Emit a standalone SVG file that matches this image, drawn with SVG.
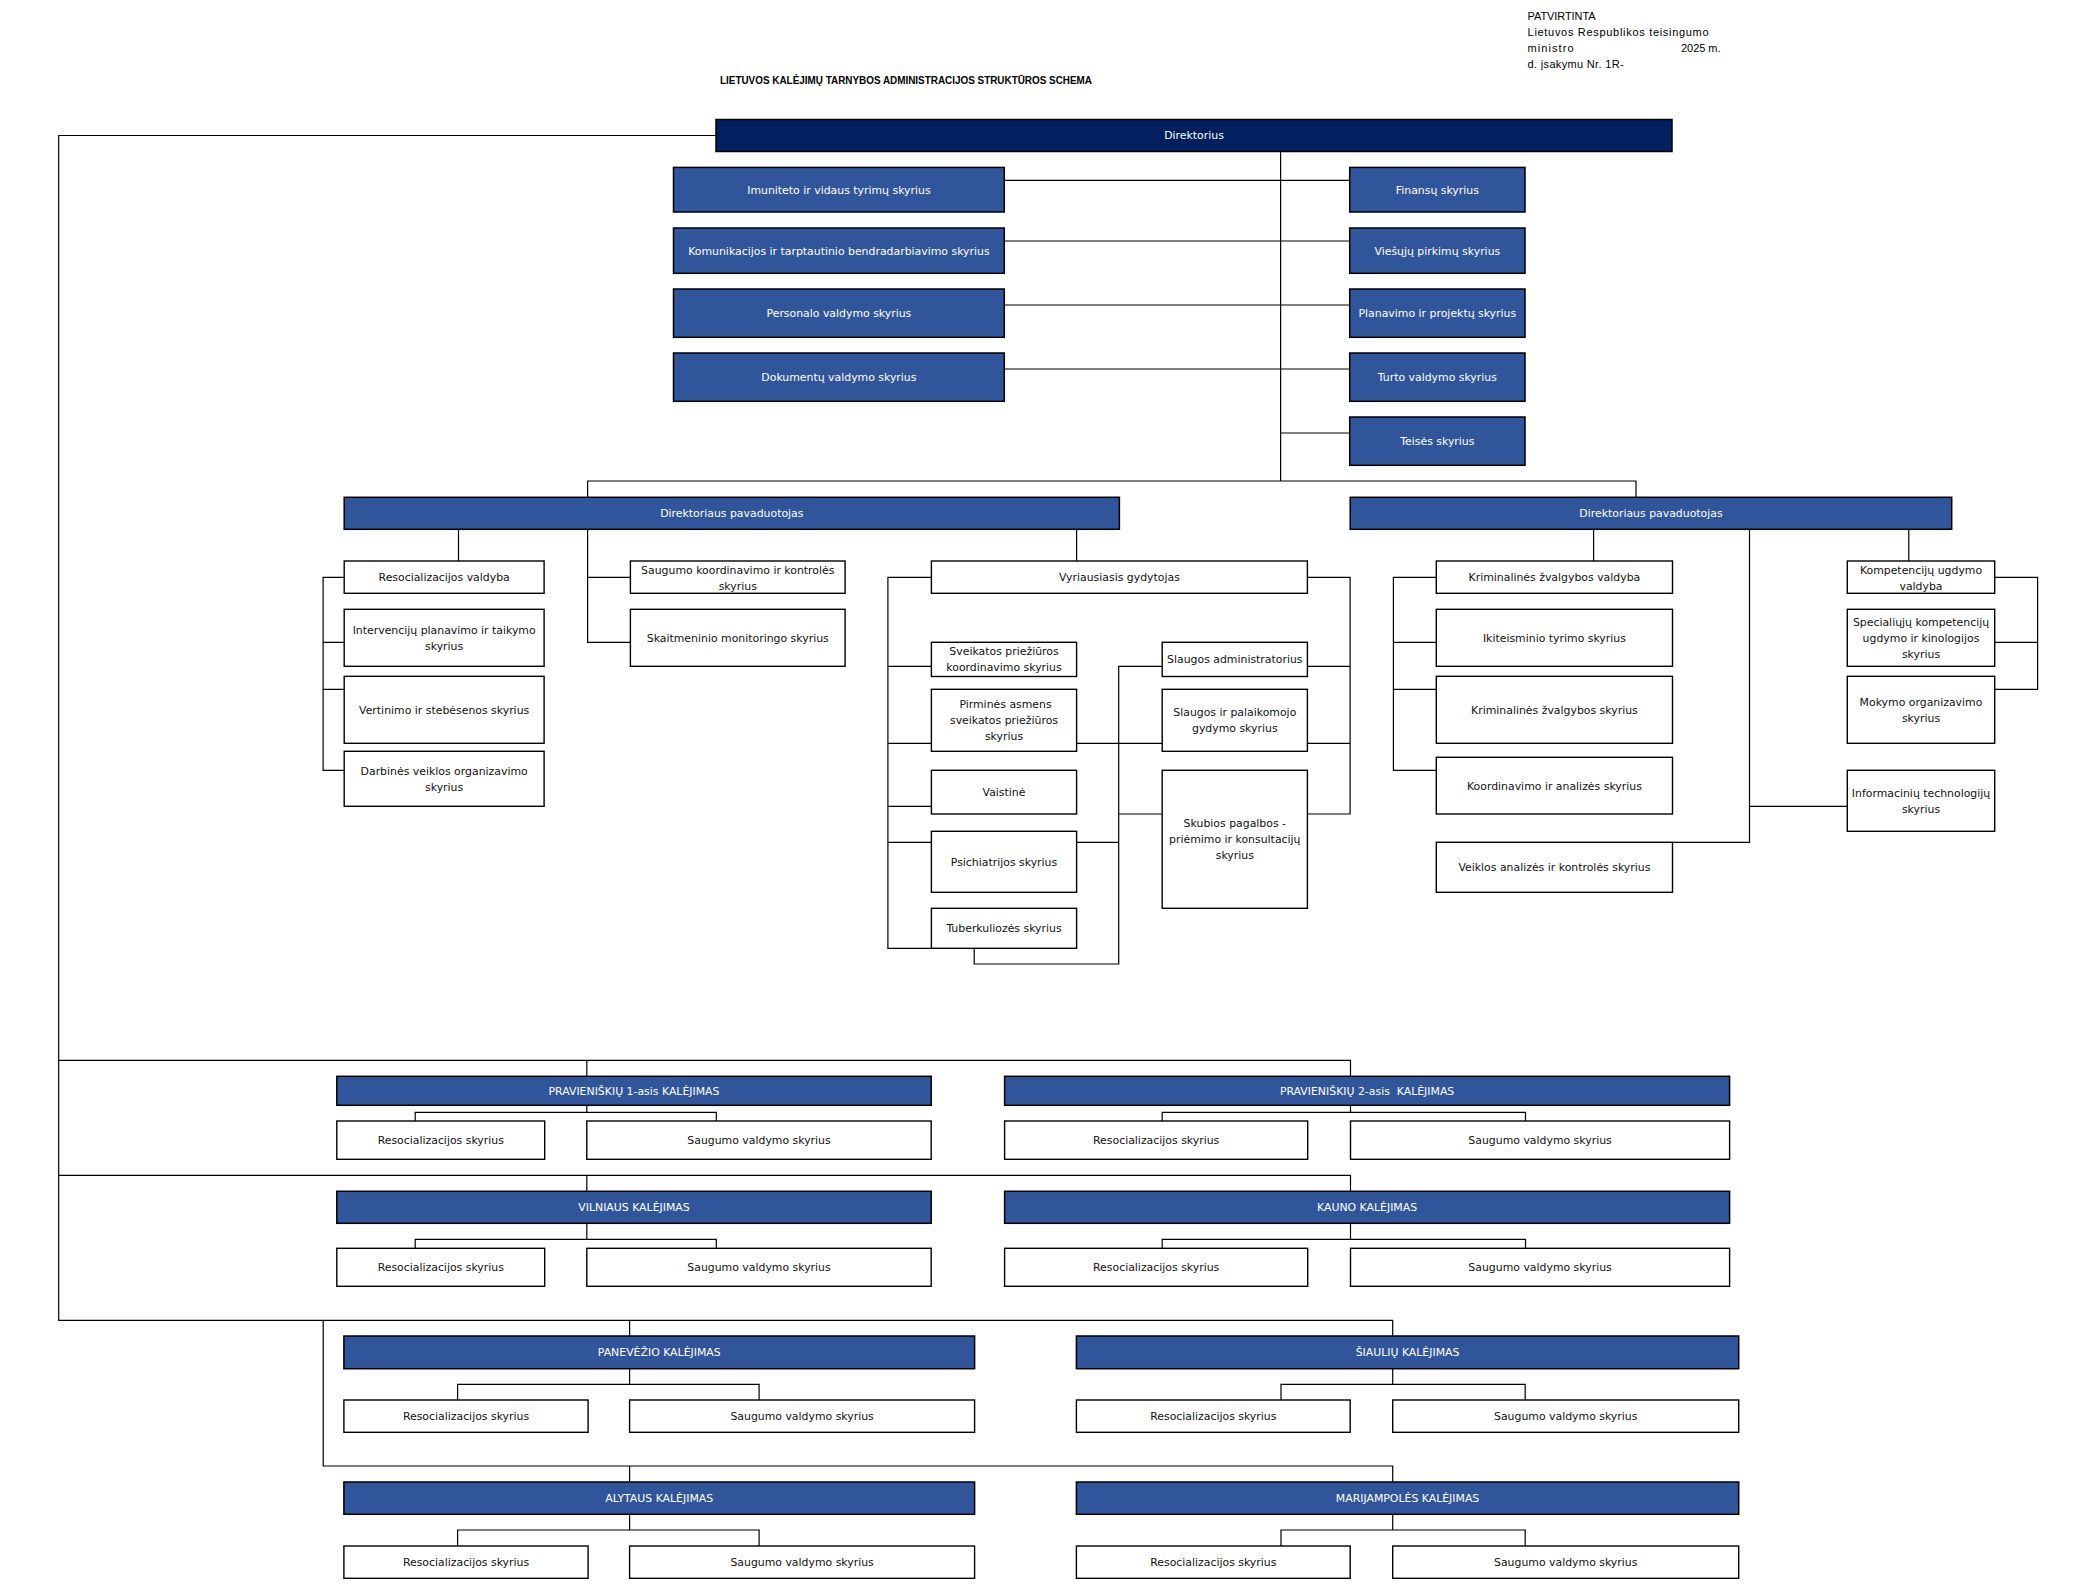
<svg xmlns="http://www.w3.org/2000/svg" width="2083" height="1591" viewBox="0 0 2083 1591">
<style>
.bg{fill:#ffffff}
.nv{fill:#002060;stroke:#000;stroke-width:1.5}
.bl{fill:#31559A;stroke:#000;stroke-width:1.5}
.wh{fill:#ffffff;stroke:#000;stroke-width:1.4}
.cn{fill:none;stroke:#000;stroke-width:1.2}
text{font-family:"DejaVu Sans","Liberation Sans",sans-serif;font-size:10.9px;text-anchor:middle}
.tw{fill:#ffffff}
.tk{fill:#111111}
.hd{font-family:"Liberation Sans",Arial,sans-serif;font-size:11px;text-anchor:start;fill:#000}
.tt{font-family:"Liberation Sans",Arial,sans-serif;font-size:10px;font-weight:bold;text-anchor:start;fill:#000}
</style>
<rect class="bg" x="0" y="0" width="2083" height="1591"/>
<g id="header">
<text class="hd" x="1527.6" y="20" textLength="68">PATVIRTINTA</text>
<text class="hd" x="1527.6" y="36" textLength="181">Lietuvos Respublikos teisingumo</text>
<text class="hd" x="1527.6" y="52" textLength="46">ministro</text>
<text class="hd" x="1681" y="52" textLength="39.5">2025 m.</text>
<text class="hd" x="1527.6" y="68" textLength="96">d. įsakymu Nr. 1R-</text>
<text class="tt" x="720" y="84" textLength="372" lengthAdjust="spacingAndGlyphs">LIETUVOS KALĖJIMŲ TARNYBOS ADMINISTRACIJOS STRUKTŪROS SCHEMA</text>
</g>
<g id="connectors" class="cn">
<path d="M716 135.5 H58.7 V1320.3 H1392.7 V1336"/>
<path d="M58.7 1060.3 H1350.5 V1076.3 M586.8 1060.3 V1076.3"/>
<path d="M58.7 1175.3 H1350.5 V1191.3 M586.8 1175.3 V1191.3"/>
<path d="M629.6 1320.3 V1336 M323.2 1320.3 V1466 H1392.7 V1482 M629.6 1466 V1482"/>
<path d="M1280.6 151.5 V481 M587.6 497.3 V481 H1636 V497.3"/>
<path d="M1004.3 180.3 H1349.7 M1004.3 241 H1349.7 M1004.3 305 H1349.7 M1004.3 369 H1349.7 M1280.6 433 H1349.7"/>
<path d="M458.5 529.3 V561 M587.6 529.3 V642.3 H630.4 M587.6 577.3 H630.4 M1076.6 529.3 V561"/>
<path d="M344.2 577.3 H323.1 V770.3 H344.2 M323.1 642.3 H344.2 M323.1 689.3 H344.2"/>
<path d="M931.4 577.3 H887.9 V948.3 H931.4 M887.9 666.3 H931.4 M887.9 743.3 H931.4 M887.9 806.3 H931.4 M887.9 842.3 H931.4"/>
<path d="M974.2 948.3 V964 H1118.7 V666.3 H1162.2 M1076.6 743.3 H1162.2 M1118.7 814 H1162.2 M1076.6 842.3 H1118.7"/>
<path d="M1307.4 577.3 H1350.1 V814 H1307.4 M1307.4 666.3 H1350.1 M1307.4 743.3 H1350.1"/>
<path d="M1593.6 529.3 V561 M1749.5 529.3 V842.3 H1672.5 M1749.5 806.3 H1847.3 M1908.8 529.3 V561"/>
<path d="M1436.3 577.3 H1393.4 V770.3 H1436.3 M1393.4 642.3 H1436.3 M1393.4 689.3 H1436.3"/>
<path d="M1994.7 577.3 H2037.6 V689.3 H1994.7 M1994.7 642.3 H2037.6"/>
<path d="M586.8 1105.3 V1112.3 M415.2 1121 V1112.3 H716.3 V1121"/>
<path d="M1350.5 1105.3 V1112.3 M1162.2 1121 V1112.3 H1525.5 V1121"/>
<path d="M586.8 1223.3 V1239.3 M415.2 1248.3 V1239.3 H716.3 V1248.3"/>
<path d="M1350.5 1223.3 V1239.3 M1162.2 1248.3 V1239.3 H1525.5 V1248.3"/>
<path d="M629.6 1368.7 V1384.3 M457.6 1400 V1384.3 H759.1 V1400"/>
<path d="M1392.7 1368.7 V1384.3 M1281 1400 V1384.3 H1525.2 V1400"/>
<path d="M629.6 1514.3 V1530 M457.6 1546 V1530 H759.1 V1546"/>
<path d="M1392.7 1514.3 V1530 M1281 1546 V1530 H1525.2 V1546"/>
</g>
<g id="n-direktorius"><rect class="nv" x="716" y="119.5" width="956" height="32"/><text class="tw" x="1194" y="139.4">Direktorius</text></g>
<g id="n-imuniteto"><rect class="bl" x="673.5" y="167.4" width="330.8" height="44.6"/><text class="tw" x="838.9" y="193.6">Imuniteto ir vidaus tyrimų skyrius</text></g>
<g id="n-komunikacijos"><rect class="bl" x="673.5" y="228" width="330.8" height="45.3"/><text class="tw" x="838.9" y="254.6">Komunikacijos ir tarptautinio bendradarbiavimo skyrius</text></g>
<g id="n-personalo"><rect class="bl" x="673.5" y="289" width="330.8" height="48.3"/><text class="tw" x="838.9" y="317.1">Personalo valdymo skyrius</text></g>
<g id="n-dokumentu"><rect class="bl" x="673.5" y="353" width="330.8" height="48.3"/><text class="tw" x="838.9" y="381.1">Dokumentų valdymo skyrius</text></g>
<g id="n-finansu"><rect class="bl" x="1349.7" y="167.4" width="175.3" height="44.6"/><text class="tw" x="1437.35" y="193.6">Finansų skyrius</text></g>
<g id="n-viesuju"><rect class="bl" x="1349.7" y="228" width="175.3" height="45.3"/><text class="tw" x="1437.35" y="254.6">Viešųjų pirkimų skyrius</text></g>
<g id="n-planavimo"><rect class="bl" x="1349.7" y="289" width="175.3" height="48.3"/><text class="tw" x="1437.35" y="317.1">Planavimo ir projektų skyrius</text></g>
<g id="n-turto"><rect class="bl" x="1349.7" y="353" width="175.3" height="48.3"/><text class="tw" x="1437.35" y="381.1">Turto valdymo skyrius</text></g>
<g id="n-teises"><rect class="bl" x="1349.7" y="417" width="175.3" height="48.3"/><text class="tw" x="1437.35" y="445.1">Teisės skyrius</text></g>
<g id="n-pav1"><rect class="bl" x="344.2" y="497.3" width="775.2" height="32"/><text class="tw" x="731.8" y="517.2">Direktoriaus pavaduotojas</text></g>
<g id="n-pav2"><rect class="bl" x="1350.2" y="497.3" width="601.5" height="32"/><text class="tw" x="1651" y="517.2">Direktoriaus pavaduotojas</text></g>
<g id="n-resoc-valdyba"><rect class="wh" x="344.2" y="561" width="199.9" height="32.3"/><text class="tk" x="444.15" y="581.1">Resocializacijos valdyba</text></g>
<g id="n-intervenciju"><rect class="wh" x="344.2" y="609.3" width="199.9" height="57"/><text class="tk" x="444.15" y="633.7">Intervencijų planavimo ir taikymo</text><text class="tk" x="444.15" y="649.7">skyrius</text></g>
<g id="n-vertinimo"><rect class="wh" x="344.2" y="676.3" width="199.9" height="67"/><text class="tk" x="444.15" y="713.7">Vertinimo ir stebėsenos skyrius</text></g>
<g id="n-darbines"><rect class="wh" x="344.2" y="751.3" width="199.9" height="55"/><text class="tk" x="444.15" y="774.7">Darbinės veiklos organizavimo</text><text class="tk" x="444.15" y="790.7">skyrius</text></g>
<g id="n-saugumo-koord"><rect class="wh" x="630.4" y="561" width="214.7" height="32.3"/><text class="tk" x="737.75" y="574">Saugumo koordinavimo ir kontrolės</text><text class="tk" x="737.75" y="590">skyrius</text></g>
<g id="n-skaitmeninio"><rect class="wh" x="630.4" y="609.3" width="214.7" height="57"/><text class="tk" x="737.75" y="641.7">Skaitmeninio monitoringo skyrius</text></g>
<g id="n-vyriausiasis"><rect class="wh" x="931.4" y="561" width="376" height="32.3"/><text class="tk" x="1119.4" y="581.1">Vyriausiasis gydytojas</text></g>
<g id="n-sveikatos"><rect class="wh" x="931.4" y="642.3" width="145.2" height="34.2"/><text class="tk" x="1004" y="655.3">Sveikatos priežiūros</text><text class="tk" x="1004" y="671.3">koordinavimo skyrius</text></g>
<g id="n-pirmines"><rect class="wh" x="931.4" y="689.3" width="145.2" height="62"/><text class="tk" x="1005.5" y="708.3">Pirminės asmens</text><text class="tk" x="1004" y="724.3">sveikatos priežiūros</text><text class="tk" x="1004" y="740.3">skyrius</text></g>
<g id="n-vaistine"><rect class="wh" x="931.4" y="770.3" width="145.2" height="43.7"/><text class="tk" x="1004" y="796.1">Vaistinė</text></g>
<g id="n-psichiatrijos"><rect class="wh" x="931.4" y="831.3" width="145.2" height="61"/><text class="tk" x="1004" y="865.7">Psichiatrijos skyrius</text></g>
<g id="n-tuberkuliozes"><rect class="wh" x="931.4" y="908.3" width="145.2" height="40"/><text class="tk" x="1004" y="932.2">Tuberkuliozės skyrius</text></g>
<g id="n-slaugos-admin"><rect class="wh" x="1162.2" y="642.3" width="145.2" height="34.2"/><text class="tk" x="1234.8" y="663.3">Slaugos administratorius</text></g>
<g id="n-slaugos-palaik"><rect class="wh" x="1162.2" y="689.3" width="145.2" height="62"/><text class="tk" x="1234.8" y="716.3">Slaugos ir palaikomojo</text><text class="tk" x="1234.8" y="732.3">gydymo skyrius</text></g>
<g id="n-skubios"><rect class="wh" x="1162.2" y="770.3" width="145.2" height="138"/><text class="tk" x="1234.8" y="827.3">Skubios pagalbos -</text><text class="tk" x="1234.8" y="843.3">priėmimo ir konsultacijų</text><text class="tk" x="1234.8" y="859.3">skyrius</text></g>
<g id="n-krim-valdyba"><rect class="wh" x="1436.3" y="561" width="236.2" height="32.3"/><text class="tk" x="1554.4" y="581.1">Kriminalinės žvalgybos valdyba</text></g>
<g id="n-ikiteisminio"><rect class="wh" x="1436.3" y="609.3" width="236.2" height="57"/><text class="tk" x="1554.4" y="641.7">Ikiteisminio tyrimo skyrius</text></g>
<g id="n-krim-skyrius"><rect class="wh" x="1436.3" y="676.3" width="236.2" height="67"/><text class="tk" x="1554.4" y="713.7">Kriminalinės žvalgybos skyrius</text></g>
<g id="n-koordinavimo"><rect class="wh" x="1436.3" y="757.3" width="236.2" height="56.7"/><text class="tk" x="1554.4" y="789.6">Koordinavimo ir analizės skyrius</text></g>
<g id="n-veiklos"><rect class="wh" x="1436.3" y="842.3" width="236.2" height="50"/><text class="tk" x="1554.4" y="871.2">Veiklos analizės ir kontrolės skyrius</text></g>
<g id="n-kompetenciju"><rect class="wh" x="1847.3" y="561" width="147.4" height="32.3"/><text class="tk" x="1921" y="574">Kompetencijų ugdymo</text><text class="tk" x="1921" y="590">valdyba</text></g>
<g id="n-specialiuju"><rect class="wh" x="1847.3" y="609.3" width="147.4" height="57"/><text class="tk" x="1921" y="625.7">Specialiųjų kompetencijų</text><text class="tk" x="1921" y="641.7">ugdymo ir kinologijos</text><text class="tk" x="1921" y="657.7">skyrius</text></g>
<g id="n-mokymo"><rect class="wh" x="1847.3" y="676.3" width="147.4" height="67"/><text class="tk" x="1921" y="705.7">Mokymo organizavimo</text><text class="tk" x="1921" y="721.7">skyrius</text></g>
<g id="n-informaciniu"><rect class="wh" x="1847.3" y="770.3" width="147.4" height="61"/><text class="tk" x="1921" y="796.7">Informacinių technologijų</text><text class="tk" x="1921" y="812.7">skyrius</text></g>
<g id="n-prav1"><rect class="bl" x="336.8" y="1076.3" width="594.4" height="29"/><text class="tw" x="634" y="1094.7">PRAVIENIŠKIŲ 1-asis KALĖJIMAS</text></g>
<g id="n-prav1-resoc"><rect class="wh" x="336.8" y="1121" width="207.9" height="38.3"/><text class="tk" x="440.75" y="1144.1">Resocializacijos skyrius</text></g>
<g id="n-prav1-saug"><rect class="wh" x="586.8" y="1121" width="344.4" height="38.3"/><text class="tk" x="759" y="1144.1">Saugumo valdymo skyrius</text></g>
<g id="n-prav2"><rect class="bl" x="1004.6" y="1076.3" width="725" height="29"/><text class="tw" x="1367.1" y="1094.7" xml:space="preserve">PRAVIENIŠKIŲ 2-asis  KALĖJIMAS</text></g>
<g id="n-prav2-resoc"><rect class="wh" x="1004.6" y="1121" width="303.1" height="38.3"/><text class="tk" x="1156.15" y="1144.1">Resocializacijos skyrius</text></g>
<g id="n-prav2-saug"><rect class="wh" x="1350.5" y="1121" width="379.1" height="38.3"/><text class="tk" x="1540.05" y="1144.1">Saugumo valdymo skyrius</text></g>
<g id="n-vilniaus"><rect class="bl" x="336.8" y="1191.3" width="594.4" height="32"/><text class="tw" x="634" y="1211.2">VILNIAUS KALĖJIMAS</text></g>
<g id="n-vilniaus-resoc"><rect class="wh" x="336.8" y="1248.3" width="207.9" height="38"/><text class="tk" x="440.75" y="1271.2">Resocializacijos skyrius</text></g>
<g id="n-vilniaus-saug"><rect class="wh" x="586.8" y="1248.3" width="344.4" height="38"/><text class="tk" x="759" y="1271.2">Saugumo valdymo skyrius</text></g>
<g id="n-kauno"><rect class="bl" x="1004.6" y="1191.3" width="725" height="32"/><text class="tw" x="1367.1" y="1211.2">KAUNO KALĖJIMAS</text></g>
<g id="n-kauno-resoc"><rect class="wh" x="1004.6" y="1248.3" width="303.1" height="38"/><text class="tk" x="1156.15" y="1271.2">Resocializacijos skyrius</text></g>
<g id="n-kauno-saug"><rect class="wh" x="1350.5" y="1248.3" width="379.1" height="38"/><text class="tk" x="1540.05" y="1271.2">Saugumo valdymo skyrius</text></g>
<g id="n-panevezio"><rect class="bl" x="343.9" y="1336" width="630.7" height="32.7"/><text class="tw" x="659.25" y="1356.3">PANEVĖŽIO KALĖJIMAS</text></g>
<g id="n-panevezio-resoc"><rect class="wh" x="343.9" y="1400" width="244.2" height="32.3"/><text class="tk" x="466" y="1420.1">Resocializacijos skyrius</text></g>
<g id="n-panevezio-saug"><rect class="wh" x="629.6" y="1400" width="345" height="32.3"/><text class="tk" x="802.1" y="1420.1">Saugumo valdymo skyrius</text></g>
<g id="n-siauliu"><rect class="bl" x="1076.4" y="1336" width="662.3" height="32.7"/><text class="tw" x="1407.55" y="1356.3">ŠIAULIŲ KALĖJIMAS</text></g>
<g id="n-siauliu-resoc"><rect class="wh" x="1076.4" y="1400" width="273.8" height="32.3"/><text class="tk" x="1213.3" y="1420.1">Resocializacijos skyrius</text></g>
<g id="n-siauliu-saug"><rect class="wh" x="1392.7" y="1400" width="346" height="32.3"/><text class="tk" x="1565.7" y="1420.1">Saugumo valdymo skyrius</text></g>
<g id="n-alytaus"><rect class="bl" x="343.9" y="1482" width="630.7" height="32.3"/><text class="tw" x="659.25" y="1502.1">ALYTAUS KALĖJIMAS</text></g>
<g id="n-alytaus-resoc"><rect class="wh" x="343.9" y="1546" width="244.2" height="32.3"/><text class="tk" x="466" y="1566.1">Resocializacijos skyrius</text></g>
<g id="n-alytaus-saug"><rect class="wh" x="629.6" y="1546" width="345" height="32.3"/><text class="tk" x="802.1" y="1566.1">Saugumo valdymo skyrius</text></g>
<g id="n-marijampoles"><rect class="bl" x="1076.4" y="1482" width="662.3" height="32.3"/><text class="tw" x="1407.55" y="1502.1">MARIJAMPOLĖS KALĖJIMAS</text></g>
<g id="n-marijampoles-resoc"><rect class="wh" x="1076.4" y="1546" width="273.8" height="32.3"/><text class="tk" x="1213.3" y="1566.1">Resocializacijos skyrius</text></g>
<g id="n-marijampoles-saug"><rect class="wh" x="1392.7" y="1546" width="346" height="32.3"/><text class="tk" x="1565.7" y="1566.1">Saugumo valdymo skyrius</text></g>
</svg>
